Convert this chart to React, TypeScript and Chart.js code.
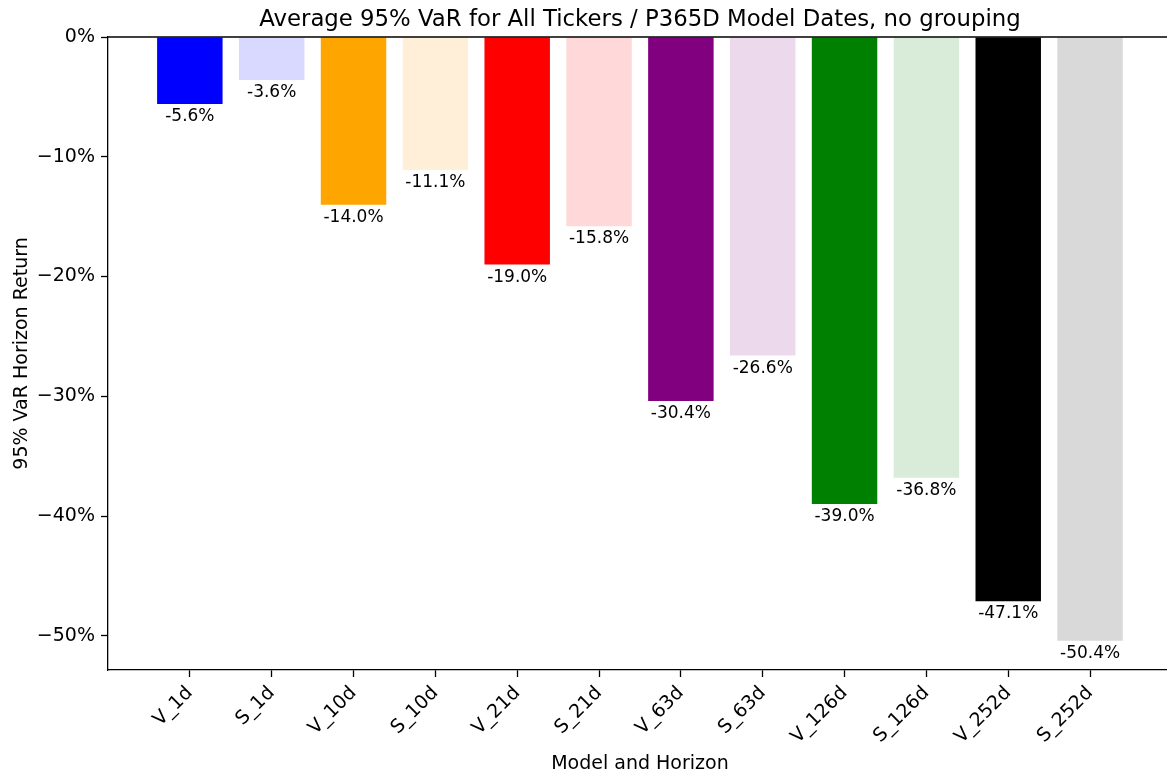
import { useEffect, useRef } from "react";
import { Chart, registerables } from "chart.js";

Chart.register(...registerables);

const FONT = '"DejaVu Sans", "Liberation Sans", sans-serif';

const TITLE = "Average 95% VaR for All Tickers / P365D Model Dates, no grouping";
const X_TITLE = "Model and Horizon";
const Y_TITLE = "95% VaR Horizon Return";

const categories = [
  "V_1d", "S_1d", "V_10d", "S_10d", "V_21d", "S_21d",
  "V_63d", "S_63d", "V_126d", "S_126d", "V_252d", "S_252d",
];

// Average 95% VaR, in percent
const values = [-5.6, -3.6, -14.0, -11.1, -19.0, -15.8, -30.4, -26.6, -39.0, -36.8, -47.1, -50.4];

const barColors = [
  "#0000ff", "#d9d9ff",
  "#ffa500", "#ffefd9",
  "#ff0000", "#ffd9d9",
  "#800080", "#ecd9ec",
  "#008000", "#d9ecd9",
  "#000000", "#d9d9d9",
];

const yTickValues = [0, -10, -20, -30, -40, -50];
const Y_MIN = -52.85;
const Y_MAX = 0;
const X_MIN = -1;
const X_MAX = 11.94;

const fmtTick = (v: number) => (v === 0 ? "0%" : (v < 0 ? "\u2212" : "") + Math.abs(v) + "%");

const decorations = {
  id: "decorations",
  afterDatasetsDraw(chart: any) {
    const { ctx, chartArea } = chart;
    const xs = chart.scales.x;
    const ys = chart.scales.y;
    ctx.save();
    // zero line along the top of the plot
    ctx.strokeStyle = "#000";
    ctx.lineWidth = 1.3;
    ctx.beginPath();
    ctx.moveTo(chartArea.left, ys.getPixelForValue(0));
    ctx.lineTo(chartArea.right, ys.getPixelForValue(0));
    ctx.stroke();

    // value labels under each bar
    ctx.fillStyle = "#000";
    ctx.font = `17px ${FONT}`;
    ctx.textAlign = "center";
    ctx.textBaseline = "alphabetic";
    values.forEach((v, i) => {
      const px = xs.getPixelForValue(i);
      const py = ys.getPixelForValue(v);
      ctx.fillText(v.toFixed(1) + "%", px, py + 17);
    });

    // title, centred on the full axes width
    const cx = (xs.getPixelForValue(-0.99) + xs.getPixelForValue(11.99)) / 2;
    ctx.font = `22.8px ${FONT}`;
    ctx.fillText(TITLE, cx, 26);

    // axis titles
    ctx.font = `19px ${FONT}`;
    ctx.fillText(X_TITLE, cx, 769);
    ctx.translate(27, (chartArea.top + chartArea.bottom) / 2);
    ctx.rotate(-Math.PI / 2);
    ctx.fillText(Y_TITLE, 0, 0);
    ctx.restore();
  },
};

export default function App() {
  const ref = useRef<HTMLCanvasElement | null>(null);

  useEffect(() => {
    document.body.style.margin = "0";
    const canvas = ref.current;
    if (!canvas) return;
    const chart = new Chart(canvas, {
      type: "bar",
      data: {
        datasets: [
          {
            data: values.map((v, i) => ({ x: i, y: v })),
            backgroundColor: barColors,
            borderWidth: 0,
            barPercentage: 1,
            categoryPercentage: 0.8,
          },
        ],
      },
      options: {
        responsive: false,
        animation: false,
        devicePixelRatio: 1,
        layout: { padding: { top: 37, left: 0, right: 0, bottom: 0 } },
        plugins: {
          legend: { display: false },
          tooltip: { enabled: false },
          title: { display: false },
        },
        scales: {
          x: {
            type: "linear",
            min: X_MIN,
            max: X_MAX,
            offset: false,
            afterBuildTicks: (axis: any) => {
              axis.ticks = categories.map((_, i) => ({ value: i }));
            },
            afterFit: (s: any) => {
              s.height = 107;
            },
            ticks: {
              autoSkip: false,
              maxRotation: 45,
              minRotation: 45,
              padding: 5,
              color: "#000",
              font: { family: FONT, size: 19 },
              callback: (v: any) => categories[v] ?? "",
            },
            grid: {
              offset: false,
              drawOnChartArea: false,
              drawTicks: true,
              tickLength: 7,
              tickColor: "#000",
              tickWidth: 1.3,
            },
            border: { display: true, color: "#000", width: 1.3 },
          },
          y: {
            type: "linear",
            min: Y_MIN,
            max: Y_MAX,
            afterBuildTicks: (axis: any) => {
              axis.ticks = yTickValues.map((v) => ({ value: v }));
            },
            afterFit: (s: any) => {
              s.width = 108;
            },
            ticks: {
              padding: 6,
              color: "#000",
              font: { family: FONT, size: 19 },
              callback: (v: any) => fmtTick(Number(v)),
            },
            grid: {
              drawOnChartArea: false,
              drawTicks: true,
              tickLength: 7,
              tickColor: "#000",
              tickWidth: 1.3,
            },
            border: { display: true, color: "#000", width: 1.3 },
          },
        },
      },
      plugins: [decorations],
    } as any);
    return () => chart.destroy();
  }, []);

  return <canvas ref={ref} width={1167} height={777} style={{ display: "block" }} />;
}
